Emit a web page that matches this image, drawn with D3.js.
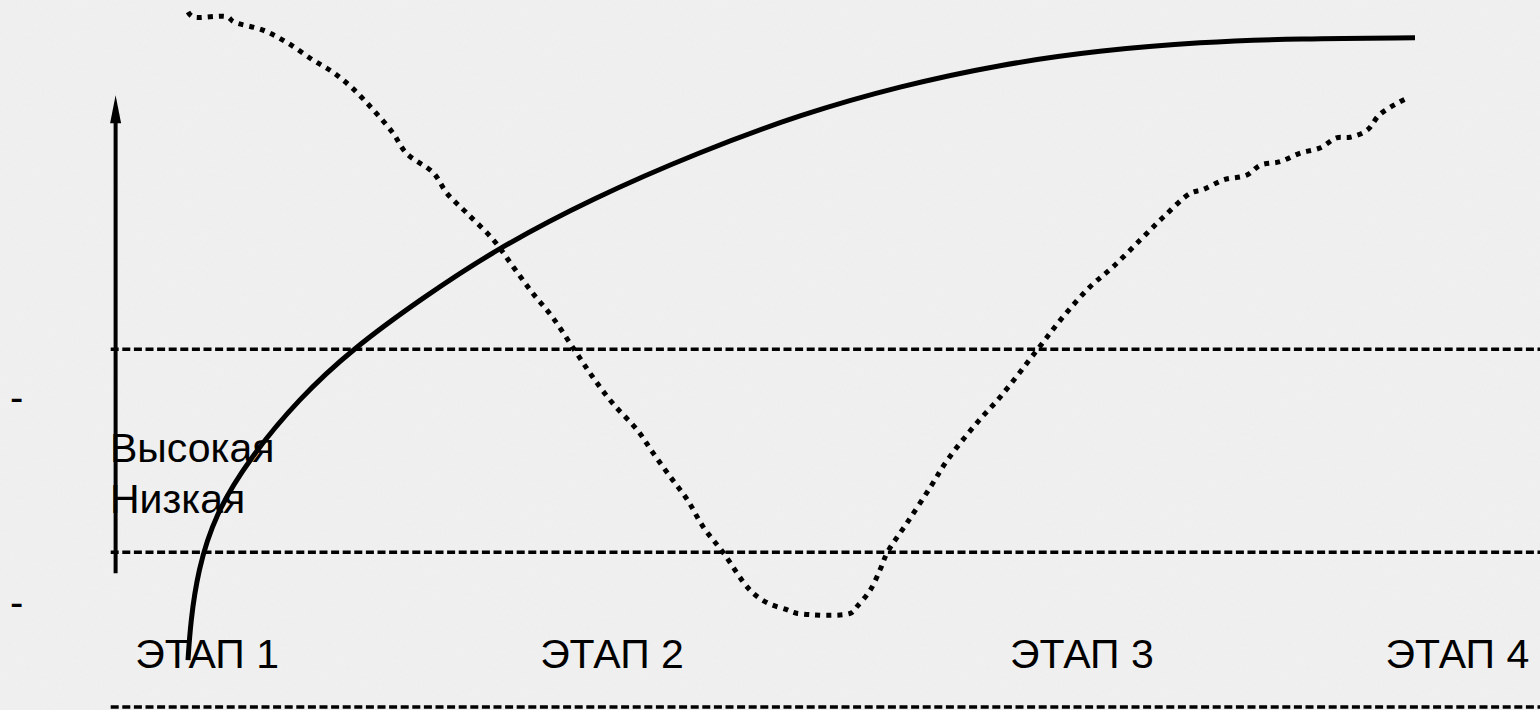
<!DOCTYPE html>
<html><head><meta charset="utf-8">
<script src="https://cdn.jsdelivr.net/npm/d3@7/dist/d3.min.js"></script>
<style>html,body{margin:0;padding:0;background:#efefef;overflow:hidden}</style>
</head><body>
<svg id="c" width="1540" height="710"></svg>
<script>
// ---- data (x: progress 0..100, y: level 0..100) ----
const stageNames = ["ЭТАП 1", "ЭТАП 2", "ЭТАП 3", "ЭТАП 4"];
const stageX = [-4.3, 28.7, 67.0, 97.6];
const levelNames = ["Высокая", "Низкая"];
const thresholds = [51.1, 22.1, 0];

const solidX = [0, 0.2, 0.8, 2.2, 5.0, 9.0, 13.5, 19.0, 25.0, 33.0, 41.7, 50.0, 58.0, 66.2, 74.3, 82.5, 90.6, 100, 100];
const solidY = [6.7, 12.0, 19.5, 27.5, 35.5, 44.0, 51.3, 58.3, 65.3, 72.7, 79.3, 84.7, 88.7, 91.8, 93.8, 95.0, 95.5, 95.6, 95.6];

const dotX = [0, 0.4, 3.2, 3.7, 6.1, 8.1, 10.2, 11.8, 13.4, 15.1, 16.7, 17.8, 20.0, 21.1, 22.7, 24.9, 26.5, 28.1, 29.7, 31.5, 33.0, 34.6, 36.6, 37.9, 39.3, 40.7, 42.0, 43.6, 45.8, 47.2, 48.8, 49.6, 54.0, 54.5, 55.6, 56.4, 57.0, 58.6, 60.5, 61.9, 64.3, 66.2, 69.2, 71.3, 73.5, 75.4, 77.6, 79.5, 81.7, 82.7, 84.4, 86.3, 87.4, 89.0, 90.6, 92.3, 93.6, 94.7, 96.1, 97.1, 98.7, 99.5];
const dotY = [99.3, 98.6, 98.6, 97.9, 96.7, 94.9, 92.4, 90.7, 88.4, 85.3, 82.0, 79.1, 76.3, 73.4, 70.6, 66.7, 62.9, 59.1, 55.7, 51.0, 47.1, 43.4, 39.6, 36.3, 32.9, 29.6, 25.7, 22.1, 16.7, 14.9, 13.9, 13.4, 13.4, 14.3, 16.7, 19.6, 22.1, 26.3, 31.4, 35.3, 40.6, 44.3, 51.0, 55.7, 60.0, 62.9, 66.7, 70.0, 73.4, 73.9, 75.3, 76.0, 77.4, 77.9, 79.1, 79.9, 81.3, 81.4, 82.4, 84.6, 86.4, 87.1];

const axisX = -5.9, axisBottom = 19.1, axisTop = 87.4;
const guideFrom = -6.3, guideTo = 110.2;

// ---- scales ----
const x = d3.scaleLinear().domain([0, 100]).range([188, 1415]);
const y = d3.scaleLinear().domain([0, 100]).range([707, 7]);

const svg = d3.select("#c");
const FONT = "'Liberation Sans', Arial, sans-serif";

// textured background
const defs = svg.append("defs");
const f = defs.append("filter").attr("id", "noise").attr("x", 0).attr("y", 0).attr("width", "100%").attr("height", "100%");
f.append("feTurbulence").attr("type", "fractalNoise").attr("baseFrequency", "0.8 0.3").attr("numOctaves", 2).attr("seed", 3).attr("result", "t");
f.append("feColorMatrix").attr("type", "matrix")
  .attr("values", "0 0 0 0 0.6  0 0 0 0 0.6  0 0 0 0 0.6  0 0 0 0.1 0");
svg.append("rect").attr("width", 1540).attr("height", 710).attr("fill", "#f1f1f1");
svg.append("rect").attr("width", 1540).attr("height", 710).attr("filter", "url(#noise)");

// threshold dashed lines
svg.selectAll("line.th").data(thresholds).enter().append("line")
  .attr("class", "th")
  .attr("x1", x(guideFrom)).attr("x2", x(guideTo))
  .attr("y1", d => y(d)).attr("y2", d => y(d))
  .attr("stroke", "#000").attr("stroke-width", 3.4)
  .attr("stroke-dasharray", "8,3.6");

// vertical arrow axis
svg.append("line")
  .attr("x1", x(axisX)).attr("x2", x(axisX))
  .attr("y1", y(axisBottom)).attr("y2", y(axisTop) + 20)
  .attr("stroke", "#000").attr("stroke-width", 4);
svg.append("path")
  .attr("d", `M${x(axisX)},${y(axisTop)} L${x(axisX) - 5.5},${y(axisTop) + 28} L${x(axisX) + 5.5},${y(axisTop) + 28} Z`)
  .attr("fill", "#000");

// level labels
svg.selectAll("text.lvl").data(levelNames).enter().append("text")
  .attr("class", "lvl")
  .attr("x", 110).attr("y", (d, i) => 462 + i * 51)
  .attr("font-family", FONT).attr("font-size", 41).attr("fill", "#000")
  .text(d => d);

// small dashes at the left
svg.selectAll("text.mk").data(thresholds.slice(0, 2)).enter().append("text")
  .attr("class", "mk")
  .attr("x", 10).attr("y", (d, i) => i === 0 ? 411 : 616)
  .attr("font-family", FONT).attr("font-size", 40).attr("fill", "#000")
  .text("-");

// solid curve
const solid = solidX.map((v, i) => [v, solidY[i]]);
svg.append("path").datum(solid)
  .attr("d", d3.line().x(d => x(d[0])).y(d => y(d[1])).curve(d3.curveBasis))
  .attr("fill", "none").attr("stroke", "#000").attr("stroke-width", 5);

// dotted curve
const dotted = dotX.map((v, i) => [v, dotY[i]]);
svg.append("path").datum(dotted)
  .attr("d", d3.line().x(d => x(d[0])).y(d => y(d[1])).curve(d3.curveCatmullRom.alpha(0.5)))
  .attr("fill", "none").attr("stroke", "#000").attr("stroke-width", 5)
  .attr("stroke-dasharray", "5,6");

// stage labels
svg.selectAll("text.st").data(stageNames).enter().append("text")
  .attr("class", "st")
  .attr("x", (d, i) => x(stageX[i])).attr("y", 668)
  .attr("font-family", FONT).attr("font-size", 41).attr("fill", "#000")
  .text(d => d);
</script>
</body></html>
